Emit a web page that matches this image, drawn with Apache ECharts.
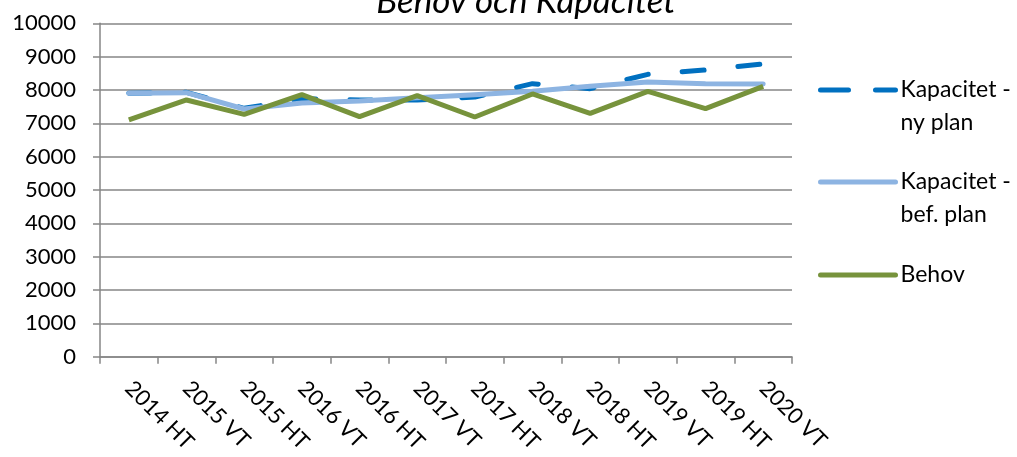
<!DOCTYPE html>
<html>
<head>
<meta charset="utf-8">
<script src="https://cdn.jsdelivr.net/npm/echarts@6/dist/echarts.min.js"></script>
<style>
html,body{margin:0;padding:0;background:#fff;}
#c{width:1017px;height:457px;}
</style>
</head>
<body>
<div id="c"></div>
<script>
var categories = ['2014 HT','2015 VT','2015 HT','2016 VT','2016 HT','2017 VT','2017 HT','2018 VT','2018 HT','2019 VT','2019 HT','2020 VT'];
var kapNy = [7900, 7930, 7450, 7740, 7700, 7700, 7790, 8190, 8040, 8470, 8600, 8780];
var kapBef = [7900, 7920, 7430, 7610, 7670, 7770, 7860, 7960, 8110, 8240, 8190, 8180];
var behov = [7100, 7700, 7270, 7860, 7200, 7830, 7190, 7880, 7300, 7960, 7440, 8110];
var yTicks = [0, 1000, 2000, 3000, 4000, 5000, 6000, 7000, 8000, 9000, 10000];

var FONT = 'Lato';
var names = ['Kapacitet - ny plan', 'Kapacitet - bef. plan', 'Behov'];
var colors = ['#0070C0', '#8DB4E2', '#77933C'];
var dash = [22, 34];
var legendDash = [28, 27];

function splitName(n) {
  if (n === 'Kapacitet - ny plan') return '\nKapacitet -\nny plan';
  if (n === 'Kapacitet - bef. plan') return '\nKapacitet -\nbef. plan';
  return n;
}

function mkLegend(i, top) {
  return {
    data: [names[i]],
    left: 818,
    top: top,
    padding: 0,
    itemWidth: 75,
    itemHeight: 12,
    itemGap: 0,
    formatter: splitName,
    itemStyle: {opacity: 0, borderWidth: 0},
    lineStyle: {width: 5, color: colors[i], type: i === 0 ? legendDash : 'solid', cap: 'round', opacity: 1},
    textStyle: {fontFamily: FONT, fontSize: 23, color: '#000', lineHeight: 33},
    selectedMode: false
  };
}

var chart = echarts.init(document.getElementById('c'), null, {renderer: 'canvas'});
chart.setOption({
  animation: false,
  backgroundColor: '#fff',
  title: {
    text: 'Behov och Kapacitet',
    left: 521,
    textAlign: 'center',
    top: -21,
    textStyle: {fontFamily: FONT, fontSize: 35, fontStyle: 'italic', fontWeight: 'normal', color: '#000'}
  },
  legend: [mkLegend(0, 40.5), mkLegend(1, 132.5), mkLegend(2, 258.5)],
  grid: {left: 100, right: 225, top: 23.3, bottom: 100.3, containLabel: false},
  xAxis: {
    type: 'category',
    data: categories,
    boundaryGap: true,
    axisLine: {lineStyle: {color: '#868686', width: 1.5}},
    axisTick: {show: true, length: 7, lineStyle: {color: '#868686', width: 1.5}},
    axisLabel: {rotate: -45, margin: 28, fontFamily: FONT, fontSize: 22, color: '#000', interval: 0}
  },
  yAxis: {
    type: 'value',
    min: yTicks[0],
    max: yTicks[yTicks.length - 1],
    interval: 1000,
    axisLine: {show: true, lineStyle: {color: '#868686', width: 1.5}},
    axisTick: {show: true, length: 7, lineStyle: {color: '#868686', width: 1.5}},
    splitLine: {lineStyle: {color: '#868686', width: 1.5}},
    axisLabel: {margin: 24, fontFamily: FONT, fontSize: 22, color: '#000', formatter: function (v) { return String(v); }}
  },
  series: [
    {name: names[0], type: 'line', data: kapNy, symbol: 'none', smooth: false,
     lineStyle: {color: colors[0], width: 5, type: dash, cap: 'round'}, itemStyle: {color: colors[0]}},
    {name: names[1], type: 'line', data: kapBef, symbol: 'none',
     lineStyle: {color: colors[1], width: 5, cap: 'round', join: 'round'}, itemStyle: {color: colors[1]}},
    {name: names[2], type: 'line', data: behov, symbol: 'none',
     lineStyle: {color: colors[2], width: 5}, itemStyle: {color: colors[2]}}
  ]
});
</script>
</body>
</html>
